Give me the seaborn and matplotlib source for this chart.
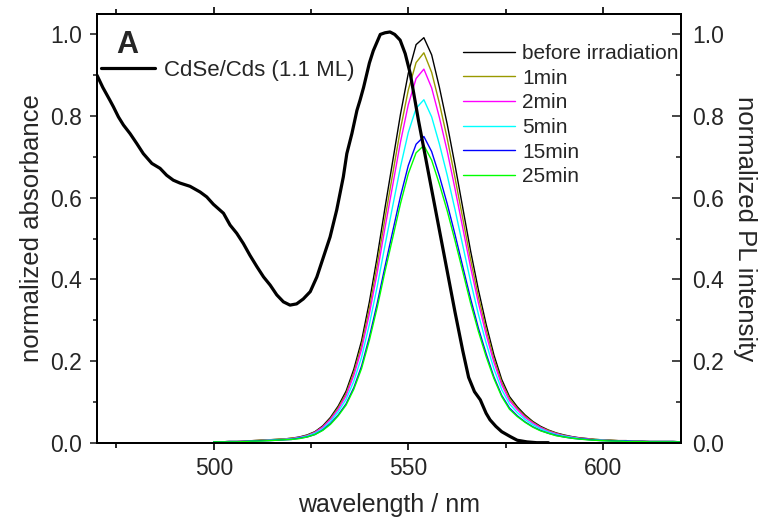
import matplotlib
matplotlib.use("Agg")
import matplotlib.pyplot as plt
import seaborn as sns
from matplotlib.ticker import MultipleLocator, FormatStrFormatter

sns.set_style("ticks")
plt.rcParams['font.family'] = ['Liberation Sans', 'DejaVu Sans']

# ---------------- data ----------------
abs_wl = [470.0, 471.5, 473.3, 474.2, 475.5, 476.8, 478.5, 480.2, 481.9, 484.1, 486.2,
          487.9, 489.6, 491.3, 493.9, 496.5, 498.2, 499.9, 502.5, 504.2, 505.9, 507.6,
          509.3, 511.1, 512.8, 514.5, 516.2, 517.9, 519.6, 521.3, 523.0, 524.8, 526.5,
          528.2, 529.9, 531.6, 533.3, 534.2, 535.5, 536.8, 537.6, 538.5, 540.0, 541.0,
          542.8, 544.0, 545.3, 546.5, 547.9, 549.2, 550.5, 551.7, 552.6, 554.0, 556.0,
          558.0, 560.0, 562.0, 564.0, 565.5, 567.0, 568.5, 570.0, 571.0, 572.5, 574.0,
          576.2, 578.0, 580.5, 583.0, 586.0]
abs_val = [0.900, 0.870, 0.839, 0.823, 0.798, 0.778, 0.757, 0.733, 0.708, 0.684, 0.672,
           0.655, 0.643, 0.636, 0.628, 0.614, 0.602, 0.584, 0.562, 0.533, 0.513, 0.488,
           0.459, 0.431, 0.406, 0.386, 0.362, 0.345, 0.337, 0.340, 0.352, 0.370, 0.406,
           0.455, 0.504, 0.570, 0.651, 0.708, 0.757, 0.814, 0.839, 0.870, 0.930, 0.960,
           1.000, 1.004, 1.006, 1.000, 0.986, 0.953, 0.904, 0.839, 0.790, 0.720, 0.620,
           0.520, 0.420, 0.320, 0.225, 0.160, 0.125, 0.105, 0.072, 0.056, 0.040, 0.027,
           0.015, 0.006, 0.002, 0.000, 0.000]

pl_wl = list(range(500, 621, 2))

pl_before = [0.002, 0.002, 0.003, 0.003, 0.004, 0.005, 0.006, 0.007, 0.008, 0.009,
             0.011, 0.014, 0.019, 0.027, 0.041, 0.062, 0.090, 0.126, 0.180, 0.250,
             0.345, 0.455, 0.575, 0.690, 0.805, 0.905, 0.975, 0.992, 0.950, 0.870,
             0.780, 0.680, 0.575, 0.470, 0.375, 0.290, 0.215, 0.155, 0.113, 0.088,
             0.068, 0.052, 0.040, 0.031, 0.024, 0.019, 0.015, 0.012, 0.010, 0.008,
             0.007, 0.006, 0.005, 0.005, 0.004, 0.004, 0.003, 0.003, 0.003, 0.003,
             0.002]
pl_1min = [0.002, 0.002, 0.003, 0.003, 0.004, 0.005, 0.006, 0.007, 0.008, 0.009,
           0.011, 0.013, 0.018, 0.026, 0.039, 0.059, 0.086, 0.120, 0.172, 0.239,
           0.329, 0.435, 0.549, 0.659, 0.769, 0.864, 0.931, 0.955, 0.907, 0.831,
           0.745, 0.649, 0.549, 0.449, 0.358, 0.277, 0.205, 0.148, 0.108, 0.084,
           0.065, 0.050, 0.038, 0.030, 0.023, 0.018, 0.014, 0.011, 0.010, 0.008,
           0.007, 0.006, 0.005, 0.005, 0.004, 0.004, 0.003, 0.003, 0.003, 0.003,
           0.002]
pl_2min = [0.002, 0.002, 0.003, 0.003, 0.004, 0.005, 0.005, 0.006, 0.007, 0.008,
           0.010, 0.013, 0.017, 0.025, 0.038, 0.057, 0.082, 0.115, 0.165, 0.229,
           0.316, 0.416, 0.526, 0.631, 0.737, 0.828, 0.892, 0.915, 0.869, 0.796,
           0.714, 0.622, 0.526, 0.430, 0.343, 0.265, 0.197, 0.142, 0.103, 0.081,
           0.062, 0.048, 0.037, 0.028, 0.022, 0.017, 0.014, 0.011, 0.009, 0.007,
           0.006, 0.005, 0.005, 0.005, 0.004, 0.004, 0.003, 0.003, 0.003, 0.003,
           0.002]
pl_5min = [0.002, 0.002, 0.003, 0.003, 0.003, 0.004, 0.005, 0.006, 0.007, 0.008,
           0.009, 0.012, 0.016, 0.023, 0.034, 0.052, 0.076, 0.106, 0.151, 0.210,
           0.290, 0.382, 0.483, 0.580, 0.676, 0.760, 0.819, 0.840, 0.798, 0.731,
           0.655, 0.571, 0.483, 0.395, 0.315, 0.244, 0.181, 0.130, 0.095, 0.074,
           0.057, 0.044, 0.034, 0.026, 0.020, 0.016, 0.013, 0.010, 0.008, 0.007,
           0.006, 0.005, 0.004, 0.004, 0.003, 0.003, 0.003, 0.003, 0.003, 0.003,
           0.002]
pl_15min = [0.002, 0.002, 0.002, 0.002, 0.003, 0.004, 0.005, 0.005, 0.006, 0.007,
            0.008, 0.011, 0.014, 0.020, 0.031, 0.047, 0.068, 0.095, 0.135, 0.188,
            0.259, 0.341, 0.431, 0.518, 0.604, 0.679, 0.731, 0.750, 0.713, 0.653,
            0.585, 0.510, 0.431, 0.353, 0.281, 0.218, 0.161, 0.116, 0.085, 0.066,
            0.051, 0.039, 0.030, 0.023, 0.018, 0.014, 0.011, 0.009, 0.008, 0.006,
            0.005, 0.005, 0.004, 0.004, 0.003, 0.003, 0.002, 0.002, 0.002, 0.002,
            0.002]
pl_25min = [0.002, 0.002, 0.002, 0.002, 0.003, 0.004, 0.004, 0.005, 0.006, 0.007,
            0.008, 0.010, 0.014, 0.020, 0.030, 0.045, 0.066, 0.092, 0.131, 0.182,
            0.251, 0.331, 0.419, 0.502, 0.586, 0.659, 0.710, 0.728, 0.692, 0.633,
            0.568, 0.495, 0.419, 0.342, 0.273, 0.211, 0.157, 0.113, 0.082, 0.064,
            0.050, 0.038, 0.029, 0.023, 0.017, 0.014, 0.011, 0.009, 0.007, 0.006,
            0.005, 0.004, 0.004, 0.003, 0.003, 0.003, 0.002, 0.002, 0.002, 0.002,
            0.002]

pl_labels = ["before irradiation", "1min", "2min", "5min", "15min", "25min"]
pl_series = [pl_before, pl_1min, pl_2min, pl_5min, pl_15min, pl_25min]
pl_colors = ["#000000", "#999900", "#ff00ff", "#00ffff", "#0000ff", "#00ff00"]

abs_label = "CdSe/Cds (1.1 ML)"

# ---------------- figure ----------------
W, H = 763, 521
fig = plt.figure(figsize=(W / 100, H / 100), dpi=100)
left, right, bottom, top = 97 / W, 680.7 / W, (H - 442.7) / H, (H - 14) / H
ax = fig.add_axes([left, bottom, right - left, top - bottom])
ax2 = ax.twinx()

# PL spectra on the right axis
for lab, vals, col in zip(pl_labels, pl_series, pl_colors):
    sns.lineplot(x=pl_wl, y=vals, ax=ax2, color=col, linewidth=1.0, label=lab)

# absorbance on the left axis
sns.lineplot(x=abs_wl, y=abs_val, ax=ax, color="black", linewidth=2.3, label=abs_label)
ax.set_zorder(ax2.get_zorder() + 1)
ax.patch.set_visible(False)

for a in (ax, ax2):
    a.set_xlim(470, 620)
    a.set_ylim(0, 1.05)
    a.yaxis.set_major_locator(MultipleLocator(0.2))
    a.yaxis.set_minor_locator(MultipleLocator(0.1))
    a.yaxis.set_major_formatter(FormatStrFormatter("%.1f"))
    for s in a.spines.values():
        s.set_linewidth(1.4)
        s.set_color("black")

ax.xaxis.set_major_locator(MultipleLocator(50))
ax.xaxis.set_minor_locator(MultipleLocator(25))

fs_tick = 16.5
ax.tick_params(axis="x", which="both", direction="out", top=True, bottom=True,
               labelsize=fs_tick, color="black", width=1.2, pad=5)
ax.tick_params(axis="x", which="major", length=5)
ax.tick_params(axis="x", which="minor", length=3.5)
ax.tick_params(axis="y", which="both", direction="out", left=True, right=False,
               labelsize=fs_tick, width=1.2, pad=6)
ax.tick_params(axis="y", which="major", length=5)
ax.tick_params(axis="y", which="minor", length=3)
ax2.tick_params(axis="y", which="both", direction="in", right=True, left=False,
                labelsize=fs_tick, width=1.2, pad=8)
ax2.tick_params(axis="y", which="major", length=6.5)
ax2.tick_params(axis="y", which="minor", length=3.5)

ax.set_xlabel("wavelength / nm", fontsize=18, labelpad=10)
ax.set_ylabel("normalized absorbance", fontsize=18.5, labelpad=4)
ax2.set_ylabel("normalized PL intensity", fontsize=18.5, rotation=270, labelpad=24)

# legends
leg2 = ax2.legend(loc="upper left", bbox_to_anchor=(463 / W, (H - 44) / H),
                  bbox_transform=fig.transFigure, frameon=False, fontsize=15,
                  handlelength=2.5, handletextpad=0.35, labelspacing=0.27,
                  borderpad=0, borderaxespad=0)
for h in leg2.get_lines():
    h.set_linewidth(1.0)

leg1 = ax.legend(loc="upper left", bbox_to_anchor=(101 / W, (H - 60) / H),
                 bbox_transform=fig.transFigure, frameon=False, fontsize=16,
                 handlelength=2.45, handletextpad=0.4, borderpad=0, borderaxespad=0)
for h in leg1.get_lines():
    h.set_linewidth(2.3)

ax.text(127 / W, (H - 45) / H, "A", transform=fig.transFigure, fontsize=22,
        fontweight="bold", ha="center", va="center")

fig.savefig("out.png", dpi=100)
